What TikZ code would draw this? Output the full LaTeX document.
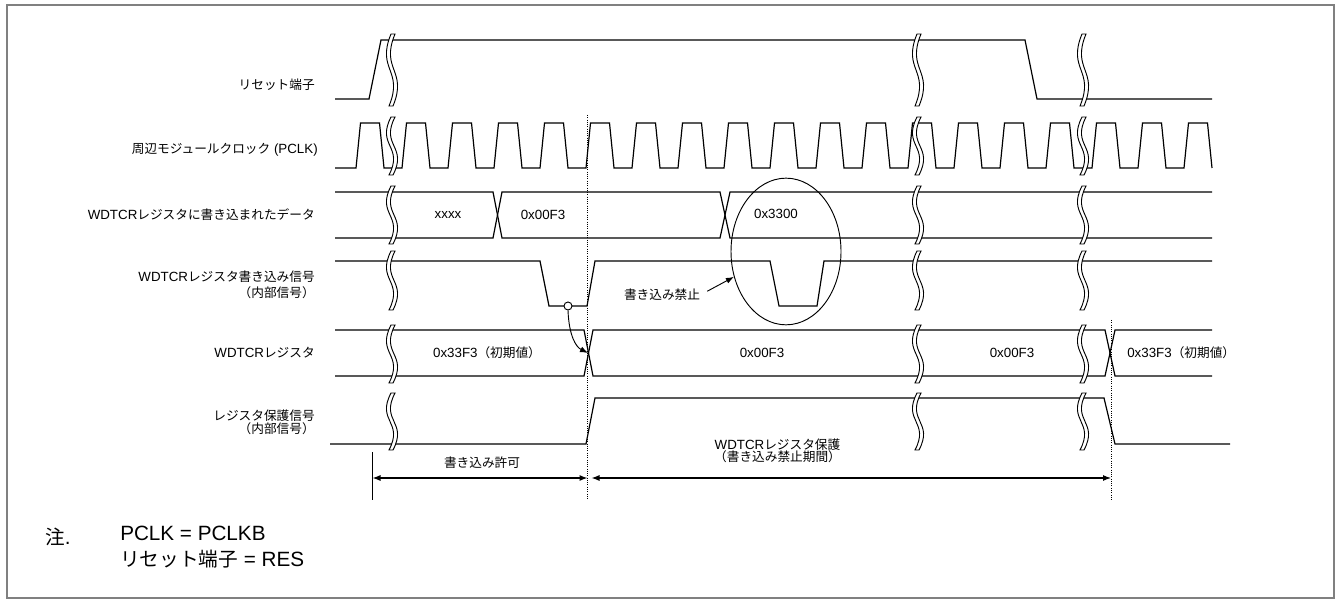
\documentclass[tikz,border=0pt]{standalone}
\usepackage{fontspec}
\setmainfont{Liberation Sans}
\newfontfamily\jp[Scale=0.95]{Noto Sans CJK JP}
\usepackage{tikz}
\usetikzlibrary{arrows.meta,positioning,calc,shapes.geometric}
\newcommand{\wbreak}[3]{%
  \filldraw[fill=white, line width=0.7pt] ({#1+1},#2) .. controls ({#1-14},{#2+0.5*(#3-#2)}) and ({#1+14},{#2+0.5*(#3-#2)}) .. ({#1-1},#3)
    -- ({#1+3},#3) .. controls ({#1+18},{#2+0.5*(#3-#2)}) and ({#1-10},{#2+0.5*(#3-#2)}) .. ({#1+5},#2) -- cycle;}

\begin{document}
\begin{tikzpicture}[
  x=0.75pt, y=-0.75pt,
  font=\fontsize{10}{12}\selectfont,
  wave/.style={line width=0.9pt},
  lbl/.style={anchor=east, align=right, inner sep=0pt},
  val/.style={inner sep=0pt},
  mark line/.style={densely dotted, line width=0.7pt},
  >={Latex[length=6pt, width=4.5pt]}
]
\useasboundingbox (0,0) rectangle (1341,605);
\draw[gray, line width=1.2pt] (7,5) rectangle (1334,598);

\node[lbl] (lrst) at (315,85) {\jp リセット端子};
\node[lbl] (lclk) at (318,150) {{\jp 周辺モジュールクロック} (PCLK)};
\node[lbl] (ldat) at (315,215) {WDTCR{\jp レジスタに書き込まれたデータ}};
\node[lbl] (lwr) at (315,285) {WDTCR{\jp レジスタ書き込み信号}\\{\jp （内部信号）}};
\node[lbl] (lreg) at (315,353) {WDTCR{\jp レジスタ}};
\node[lbl] (lprt) at (315,422) {{\jp レジスタ保護信号}\\[-2pt]{\jp （内部信号）}};

\draw[wave] (335,99) -- (369,99) -- (381,40) -- (1025,40) -- (1037,99) -- (1212,99);
\draw[wave] (335,168) \foreach \k in {0,...,18}{ -- ({356+46*\k},168) -- ({360.5+46*\k},123) -- ({379.5+46*\k},123) -- ({384+46*\k},168)};
\draw[wave] (335,192) -- (493,192) -- (502,238) -- (720,238) -- (730,192) -- (1212,192);
\draw[wave] (335,238) -- (493,238) -- (502,192) -- (720,192) -- (730,238) -- (1212,238);
\draw[wave] (335,261) -- (540,261) -- (549,306) -- (587,306) -- (595,261) -- (770,261) -- (779,306) -- (817,306) -- (824,261) -- (1212,261);
\draw[wave] (335,330) -- (584,330) -- (593,376) -- (1105,376) -- (1115,330) -- (1212,330);
\draw[wave] (335,376) -- (584,376) -- (593,330) -- (1105,330) -- (1115,376) -- (1212,376);
\draw[wave] (330,444) -- (586,444) -- (595,398) -- (1104,398) -- (1115,444) -- (1230,444);

\foreach \bx in {390,916,1081}{
  \wbreak{\bx}{34}{106}
  \wbreak{\bx}{117}{175}
  \wbreak{\bx}{186}{244}
  \wbreak{\bx}{251}{310}
  \wbreak{\bx}{325}{383}
  \wbreak{\bx}{393}{450}
}

\node[val] (dxx) at (448,215) {xxxx};
\node[val] (d1) at (543,215) {0x00F3};
\node[val] (d2) at (776,214) {0x3300};
\node[val] (r0) at (487,353) {0x33F3{\jp （初期値）}};
\node[val] (r1) at (762,353) {0x00F3};
\node[val] (r2) at (1012,353) {0x00F3};
\node[val, anchor=west] (r3) at (1127,353) {0x33F3{\jp （初期値）}};

\node[circle, draw, fill=white, line width=0.7pt, inner sep=0pt, minimum size=6pt] (wcirc) at (568,306) {};
\coordinate (regx) at (588,353);
\draw[->, line width=0.7pt] (wcirc.south) .. controls (569,336) and (576,347) .. (regx);

\node[ellipse, draw, line width=0.7pt, inner sep=0pt, minimum width=82.5pt, minimum height=110pt] (ban) at (786,251.5) {};
\node[val] (bankin) at (662,295) {\jp 書き込み禁止};
\draw[->, line width=0.7pt, shorten <=6pt] (bankin.east) -- (ban.206);

\coordinate (p0t) at (372.5,452);
\coordinate (p0b) at (372.5,500);
\coordinate (p1t) at (587.5,115);
\coordinate (p1b) at (587.5,500);
\coordinate (p2t) at (1111,320);
\coordinate (p2b) at (1111,500);
\draw[line width=0.7pt] (p0t) -- (p0b);
\draw[mark line] (p1t) -- (p1b);
\draw[mark line] (p2t) -- (p2b);

\coordinate (a0) at (372.5,478);
\coordinate (a1) at (587.5,478);
\coordinate (a2) at (1111,478);
\draw[<->, line width=0.8pt] (a0) -- (a1);
\draw[<->, line width=0.8pt, shorten <=3pt] (a1) -- (a2);
\node[val] (lok) at (482,463) {\jp 書き込み許可};
\node[val, align=center] (lprot) at (777.5,451) {WDTCR{\jp レジスタ保護}\\[-2.8pt]{\jp （書き込み禁止期間）}};

\node[val, anchor=west, font=\fontsize{15.5}{15.5}\selectfont] (nt) at (45,537) {{\jp 注}.};
\node[val, anchor=west, align=left, font=\fontsize{15.5}{20}\selectfont] (nb) at (120,547) {PCLK = PCLKB\\{\jp リセット端子} = RES};
\end{tikzpicture}
\end{document}
